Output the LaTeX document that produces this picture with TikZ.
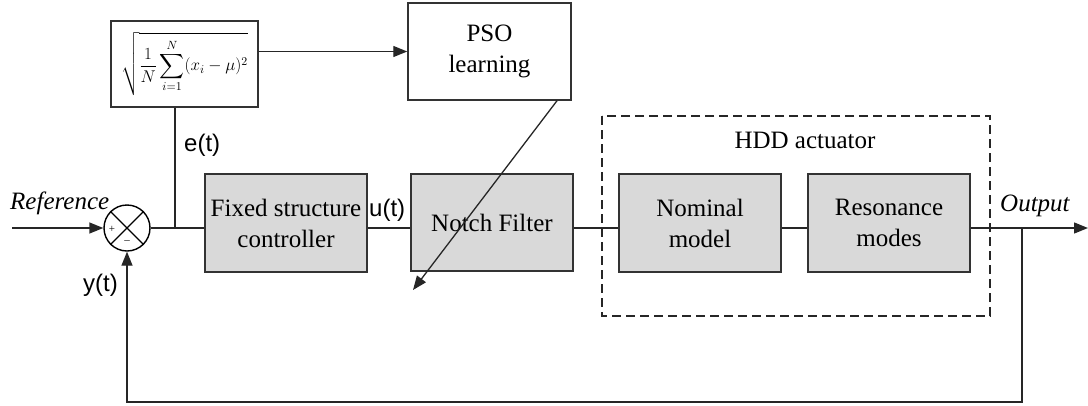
\RequirePackage{fix-cm}
\documentclass[tikz,border=0pt]{standalone}
\usepackage{amsmath}
\usepackage{fontspec}
\setmainfont{Liberation Serif}
\setsansfont{Liberation Sans}
\usetikzlibrary{arrows.meta,calc}

\tikzset{
  wire/.style={line width=1.4pt, draw=black!85},
  arr/.style={wire, -{Triangle[length=14pt,width=11pt]}},
  block/.style={draw=black!80, line width=1.5pt, fill=black!15, rectangle,
    inner sep=0pt, align=center,
    font=\fontsize{25}{31}\selectfont},
  plainbox/.style={block, fill=white},
  lbl/.style={inner sep=0pt, font=\fontsize{25}{29}\selectfont},
  sig/.style={lbl, font=\fontsize{24}{28}\selectfont\sffamily},
  sumj/.style={circle, draw=black, line width=1.4pt, fill=white,
    minimum size=46pt, inner sep=0pt},
  group/.style={draw=black!85, line width=1.4pt, dash pattern=on 9pt off 5pt}
}

\begin{document}
\begin{tikzpicture}[x=1pt,y=1pt]
\useasboundingbox (0,0) rectangle (1088,-405);

% adaptive part: RMS of the error and the PSO tuner
\node[plainbox, minimum width=147pt, minimum height=86pt] (form) at (184.5,-64)
  {\fontsize{17}{20}\selectfont$\displaystyle\sqrt{\frac{1}{N}\sum_{i=1}^{N}(x_i-\mu)^2}$};
\node[plainbox, minimum width=163pt, minimum height=97pt] (pso) at (489.5,-51.5)
  {PSO\\learning};

% forward path
\node[sumj] (sum) at (127,-228) {};
\node[block, minimum width=162pt, minimum height=98pt] (ctrl) at (286,-223)
  {Fixed structure\\controller};
\node[block, minimum width=162pt, minimum height=97pt] (notch) at (492,-222.5)
  {Notch Filter};

% plant
\draw[group] (602,-116) rectangle (990,-316);
\node[lbl] (hdd) at (805,-140) {HDD actuator};
\node[block, minimum width=162pt, minimum height=98pt] (nom) at (700,-223)
  {Nominal\\model};
\node[block, minimum width=162pt, minimum height=98pt] (res) at (889,-223)
  {Resonance\\modes};

% summing junction marks
\draw[line width=1.2pt] (sum.north west) -- (sum.south east)
                        (sum.north east) -- (sum.south west);
\node[inner sep=0pt, font=\fontsize{11}{11}\selectfont] (plus) at (112,-229) {+};
\node[inner sep=0pt, font=\fontsize{11}{11}\selectfont] (minus) at (127,-242) {\textendash};

% helper points
\coordinate (in)    at (12,-228);
\coordinate (ej)    at (175,-228);
\coordinate (fb)    at (1022,-228);
\coordinate (out)   at (1088,-228);
\coordinate (fbbot) at (1022,-402);
\coordinate (adj)   at (413,-290);

% signal flow
\draw[arr] (in) -- (sum.west);
\draw[wire] (sum.east) -- (ej) -- (ej -| ctrl.west);
\draw[wire] (ctrl.east |- ej) -- (notch.west |- ej);
\draw[wire] (notch.east |- ej) -- (nom.west |- ej);
\draw[wire] (nom.east |- ej) -- (res.west |- ej);
\draw[arr] (res.east |- ej) -- (out);
\draw[arr] (fb) -- (fbbot) -| (sum.south);

% tuning loop
\draw[wire] (ej) -- (ej |- form.south);
\draw[arr] (form.east |- pso.west) -- (pso.west);
\draw[arr, line width=1.3pt] ([xshift=67.5pt]pso.south) -- (adj);

% labels
\node[lbl, anchor=base west] (refl) at (10,-209) {\itshape Reference};
\node[lbl, anchor=base west] (outl) at (1000,-211) {\itshape Output};
\node[sig, anchor=base west] (el) at (184,-151) {e(t)};
\node[sig, anchor=base west] (ul) at (369,-216) {u(t)};
\node[sig, anchor=base west] (yl) at (83,-291) {y(t)};
\end{tikzpicture}
\end{document}
